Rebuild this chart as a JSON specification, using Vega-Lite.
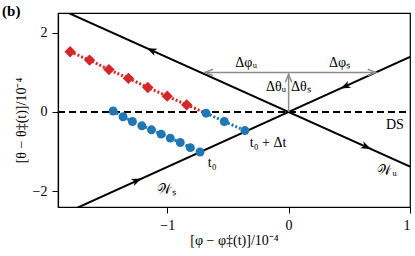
{
  "$schema": "https://vega.github.io/schema/vega-lite/v6.json",
  "width": 352,
  "height": 194,
  "autosize": "none",
  "padding": {"left": 58, "top": 13, "right": 5, "bottom": 49},
  "background": "white",
  "title": {"text": "(b)", "anchor": "start", "frame": "bounds", "font": "Liberation Serif", "fontSize": 15, "fontWeight": "bold", "color": "black", "baseline": "top", "offset": 0, "dx": -12, "dy": 6},
  "config": {
    "view": {"stroke": "black", "strokeWidth": 1.2},
    "axis": {"grid": false, "domainColor": "black", "tickColor": "black", "labelColor": "black", "titleColor": "black", "labelFont": "Liberation Serif", "titleFont": "Liberation Serif", "labelFontSize": 14, "titleFontSize": 14, "titleFontWeight": "normal", "tickSize": 6, "labelPadding": 5, "domainWidth": 1.2, "tickWidth": 1}
  },
  "datasets": {
    "wlines": [
      {"phi": -1.9, "theta": 2.62, "manifold": "u"},
      {"phi": 1.0, "theta": -1.38, "manifold": "u"},
      {"phi": -1.9, "theta": -2.64, "manifold": "s"},
      {"phi": 1.0, "theta": 1.39, "manifold": "s"}
    ],
    "ds": [{"phi": -1.9, "theta": 0}, {"phi": 1.0, "theta": 0}],
    "gray": [
      {"phi": -0.69, "theta": 1.0, "seg": "h"},
      {"phi": 0.72, "theta": 1.0, "seg": "h"},
      {"phi": 0.0, "theta": 0.0, "seg": "v"},
      {"phi": 0.0, "theta": 0.95, "seg": "v"}
    ],
    "red": [
      {"phi": -1.80, "theta": 1.52},
      {"phi": -1.64, "theta": 1.31},
      {"phi": -1.48, "theta": 1.07},
      {"phi": -1.32, "theta": 0.85},
      {"phi": -1.16, "theta": 0.62},
      {"phi": -1.00, "theta": 0.40},
      {"phi": -0.84, "theta": 0.18}
    ],
    "redline": [
      {"phi": -1.80, "theta": 1.52},
      {"phi": -1.64, "theta": 1.31},
      {"phi": -1.48, "theta": 1.07},
      {"phi": -1.32, "theta": 0.85},
      {"phi": -1.16, "theta": 0.62},
      {"phi": -1.00, "theta": 0.40},
      {"phi": -0.84, "theta": 0.18},
      {"phi": -0.68, "theta": -0.03}
    ],
    "blue1": [
      {"phi": -1.446, "theta": 0.025},
      {"phi": -1.364, "theta": -0.12},
      {"phi": -1.287, "theta": -0.24},
      {"phi": -1.209, "theta": -0.35},
      {"phi": -1.13, "theta": -0.45},
      {"phi": -1.05, "theta": -0.56},
      {"phi": -0.975, "theta": -0.66},
      {"phi": -0.893, "theta": -0.77},
      {"phi": -0.81, "theta": -0.90},
      {"phi": -0.73, "theta": -1.01}
    ],
    "blue2": [
      {"phi": -0.68, "theta": -0.03},
      {"phi": -0.53, "theta": -0.24},
      {"phi": -0.36, "theta": -0.47}
    ]
  },
  "encoding": {
    "x": {"field": "phi", "type": "quantitative", "scale": {"domain": [-1.9, 1.0], "nice": false, "zero": false}, "axis": {"values": [-1, 0, 1], "title": "[φ − φ‡(t)]/10⁻⁴", "titlePadding": 1}},
    "y": {"field": "theta", "type": "quantitative", "scale": {"domain": [-2.4, 2.5], "nice": false, "zero": false}, "axis": {"values": [-2, 0, 2], "title": "[θ − θ‡(t)]/10⁻⁴", "titlePadding": 4, "titleY": 107, "titleAlign": "center"}}
  },
  "layer": [
    {"data": {"name": "wlines"}, "mark": {"type": "line", "color": "black", "strokeWidth": 2, "clip": true}, "encoding": {"detail": {"field": "manifold"}}},
    {"data": {"name": "ds"}, "mark": {"type": "line", "color": "black", "strokeWidth": 2, "strokeDash": [7, 4], "clip": true}, "encoding": {}},
    {"data": {"name": "gray"}, "mark": {"type": "line", "color": "#8c8c8c", "strokeWidth": 1.5}, "encoding": {"detail": {"field": "seg"}}},
    {"data": {"values": [{"phi": -0.655, "theta": 1.0}]}, "mark": {"type": "point", "shape": "M-1,-0.8L1,0L-1,0.8", "filled": false, "stroke": "#8c8c8c", "strokeWidth": 1.5, "size": 64, "angle": 180, "opacity": 1}, "encoding": {}},
    {"data": {"values": [{"phi": 0.685, "theta": 1.0}]}, "mark": {"type": "point", "shape": "M-1,-0.8L1,0L-1,0.8", "filled": false, "stroke": "#8c8c8c", "strokeWidth": 1.5, "size": 64, "angle": 0, "opacity": 1}, "encoding": {}},
    {"data": {"values": [{"phi": 0.0, "theta": 0.85}]}, "mark": {"type": "point", "shape": "M-1,-0.8L1,0L-1,0.8", "filled": false, "stroke": "#8c8c8c", "strokeWidth": 1.5, "size": 64, "angle": -90, "opacity": 1}, "encoding": {}},
    {"data": {"values": [{"phi": -1.13, "theta": 1.56}]}, "mark": {"type": "point", "shape": "M1,0L-1,-0.75L-0.45,0L-1,0.75Z", "filled": true, "color": "black", "size": 100, "angle": 204.3, "opacity": 1}, "encoding": {}},
    {"data": {"values": [{"phi": 0.64, "theta": -0.88}]}, "mark": {"type": "point", "shape": "M1,0L-1,-0.75L-0.45,0L-1,0.75Z", "filled": true, "color": "black", "size": 100, "angle": 24.3, "opacity": 1}, "encoding": {}},
    {"data": {"values": [{"phi": -1.25, "theta": -1.73}]}, "mark": {"type": "point", "shape": "M1,0L-1,-0.75L-0.45,0L-1,0.75Z", "filled": true, "color": "black", "size": 100, "angle": -24.3, "opacity": 1}, "encoding": {}},
    {"data": {"values": [{"phi": 0.465, "theta": 0.645}]}, "mark": {"type": "point", "shape": "M1,0L-1,-0.75L-0.45,0L-1,0.75Z", "filled": true, "color": "black", "size": 100, "angle": 155.7, "opacity": 1}, "encoding": {}},
    {"data": {"name": "redline"}, "mark": {"type": "line", "color": "#d62728", "strokeWidth": 3, "strokeDash": [2, 2]}, "encoding": {}},
    {"data": {"name": "red"}, "mark": {"type": "point", "shape": "diamond", "filled": true, "color": "#d62728", "size": 130, "opacity": 1}},
    {"data": {"name": "blue1"}, "mark": {"type": "line", "color": "#1f77b4", "strokeWidth": 3, "strokeDash": [2, 2]}, "encoding": {}},
    {"data": {"name": "blue2"}, "mark": {"type": "line", "color": "#1f77b4", "strokeWidth": 3, "strokeDash": [2, 2]}, "encoding": {}},
    {"data": {"name": "blue1"}, "mark": {"type": "circle", "color": "#1f77b4", "size": 80, "opacity": 1}},
    {"data": {"name": "blue2"}, "mark": {"type": "circle", "color": "#1f77b4", "size": 80, "opacity": 1}},
    {"data": {"values": [
      {"phi": -0.35, "theta": 1.24, "label": "Δφᵤ"},
      {"phi": 0.42, "theta": 1.24, "label": "Δφₛ"},
      {"phi": -1.01, "theta": -1.96, "label": "𝒲ₛ"},
      {"phi": 0.81, "theta": -1.5, "label": "𝒲ᵤ"},
      {"phi": 0.876, "theta": -0.33, "label": "DS"},
      {"phi": -0.63, "theta": -1.29, "label": "t₀"}
    ]}, "mark": {"type": "text", "font": "Liberation Serif", "fontSize": 14, "color": "black", "align": "center", "baseline": "middle"}, "encoding": {"text": {"field": "label"}}},
    {"data": {"values": [
      {"phi": -0.32, "theta": -0.79, "label": "t₀ + Δt"},
      {"phi": 0.02, "theta": 0.62, "label": "Δθₛ"}
    ]}, "mark": {"type": "text", "font": "Liberation Serif", "fontSize": 14, "color": "black", "align": "left", "baseline": "middle"}, "encoding": {"text": {"field": "label"}}},
    {"data": {"values": [
      {"phi": -0.02, "theta": 0.62, "label": "Δθᵤ"}
    ]}, "mark": {"type": "text", "font": "Liberation Serif", "fontSize": 14, "color": "black", "align": "right", "baseline": "middle"}, "encoding": {"text": {"field": "label"}}}
  ]
}
